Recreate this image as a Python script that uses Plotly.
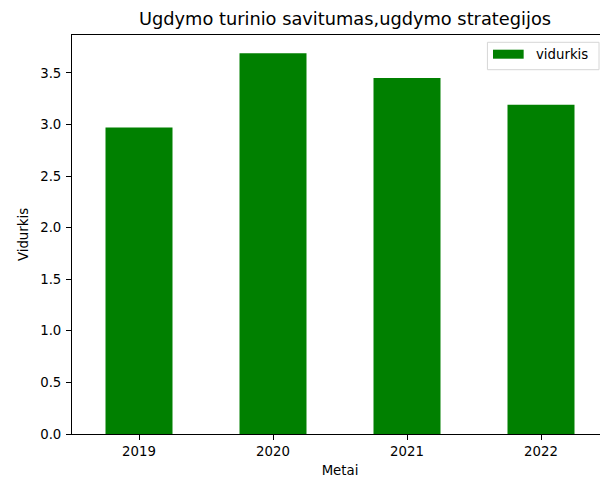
import plotly.graph_objects as go

years = ["2019", "2020", "2021", "2022"]
vidurkis = [2.97, 3.69, 3.45, 3.19]
y_ticks = [0.0, 0.5, 1.0, 1.5, 2.0, 2.5, 3.0, 3.5]
y_tick_labels = ["0.0", "0.5", "1.0", "1.5", "2.0", "2.5", "3.0", "3.5"]
legend_label = "vidurkis"

FONT = "DejaVu Sans"
# The original figure is wider than the 600 px window; its right side is cut off.
W, H = 609, 478
L, R, T, B = 71.5, 0.5, 35, 44   # plot area in px
PW, PH = W - L - R, H - T - B


def px(wx):
    return (wx - L) / PW


def py(wy):
    return (H - B - wy) / PH


fig = go.Figure()
fig.add_trace(go.Bar(x=years, y=vidurkis, name=legend_label, showlegend=False,
                     marker=dict(color="#008000", line=dict(width=0))))

shapes = [
    dict(type="rect", xref="paper", yref="paper", x0=px(487.7), x1=px(599.5), y0=py(69.7), y1=py(42.3),
         fillcolor="white", line=dict(color="#d6d6d6", width=1), layer="above"),
    dict(type="rect", xref="paper", yref="paper", x0=px(493.3), x1=px(524), y0=py(58.7), y1=py(49.7),
         fillcolor="#008000", line=dict(width=0), layer="above"),
]
annotations = [
    dict(text=legend_label, xref="paper", yref="paper", x=px(534.5), y=py(54.7), xanchor="left",
         yanchor="middle", showarrow=False, font=dict(family=FONT, size=13.3, color="#000000")),
]

fig.update_layout(
    width=W, height=H,
    margin=dict(l=L, r=R, t=T, b=B, autoexpand=False),
    paper_bgcolor="white", plot_bgcolor="white",
    font=dict(family=FONT, size=13.3, color="#000000"),
    bargap=0.5,
    showlegend=False,
    hovermode=False,
    shapes=shapes, annotations=annotations,
    title=dict(text="Ugdymo turinio savitumas,ugdymo strategijos", x=345 / W, xref="container",
               xanchor="center", y=1 - 19 / H, yref="container", yanchor="middle",
               font=dict(family=FONT, size=17.8, color="#000000")),
    xaxis=dict(type="category", range=[-0.5, 3.5], showline=True, linecolor="black", linewidth=1,
               mirror=True, ticks="outside", ticklen=5, tickcolor="black", showgrid=False,
               title=dict(text="Metai", standoff=11, font=dict(family=FONT, size=13.3)),
               automargin=False, zeroline=False),
    yaxis=dict(range=[0, 3.867], showline=True, linecolor="black", linewidth=1, mirror=False,
               ticks="outside", ticklen=5, tickcolor="black", showgrid=False,
               tickvals=y_ticks, ticktext=y_tick_labels, ticklabelstandoff=2,
               title=dict(text="Vidurkis", standoff=8, font=dict(family=FONT, size=13.3)),
               automargin=False, zeroline=False),
)

fig.write_html("out.html", config={"displayModeBar": False},
               post_script="document.body.style.margin='0';document.body.style.overflow='hidden';")
